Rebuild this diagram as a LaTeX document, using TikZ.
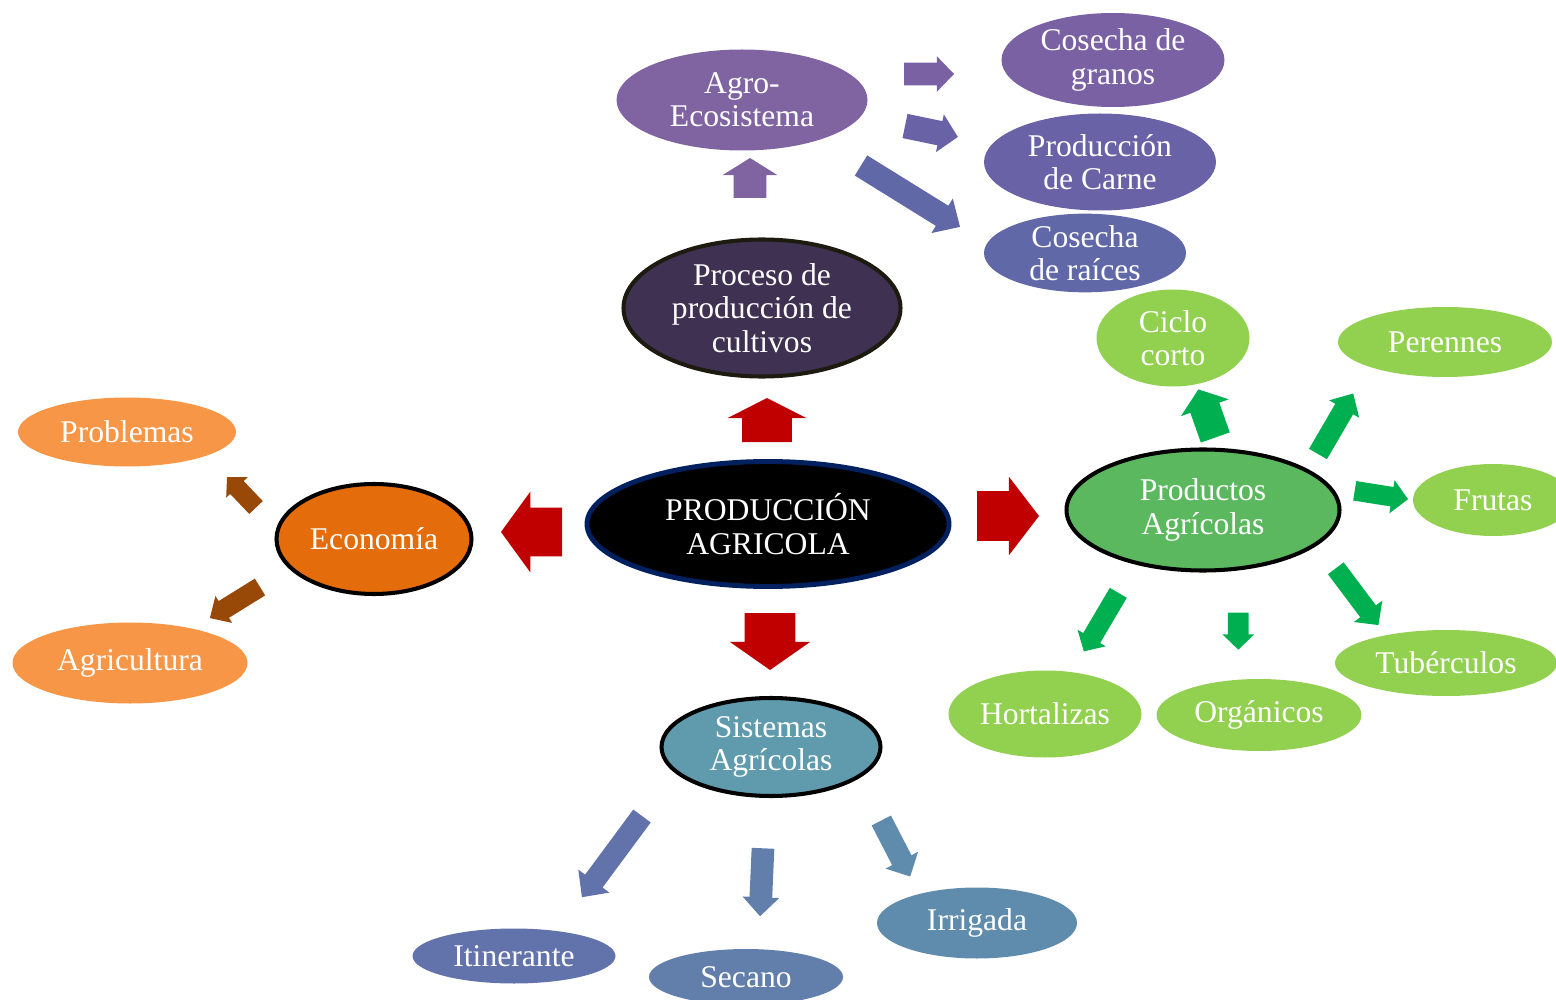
\documentclass[tikz,border=0pt]{standalone}
\usepackage{fontspec}
\setmainfont{Liberation Serif}
\usetikzlibrary{shapes.geometric,shapes.arrows}

\definecolor{rojo}{HTML}{C00000}
\definecolor{azulosc}{HTML}{002060}
\definecolor{lila}{HTML}{3F3151}
\definecolor{borde}{HTML}{1D1B10}
\definecolor{morado}{HTML}{8064A2}
\definecolor{morado2}{HTML}{7A61A3}
\definecolor{morado3}{HTML}{6A62A6}
\definecolor{morado4}{HTML}{6168A8}
\definecolor{naranja}{HTML}{E46C0A}
\definecolor{naranjac}{HTML}{F79646}
\definecolor{cafe}{HTML}{984807}
\definecolor{verdeosc}{HTML}{5CB85F}
\definecolor{verdec}{HTML}{92D050}
\definecolor{verde}{HTML}{00B050}
\definecolor{celeste}{HTML}{5F9BAD}
\definecolor{azul1}{HTML}{6272AA}
\definecolor{azul2}{HTML}{627FAB}
\definecolor{azul3}{HTML}{5F8CAD}

\tikzset{
	idea/.style={ellipse, inner sep=0pt, align=center, text=white,
		font=\fontsize{18}{19}\selectfont},
	tam/.style 2 args={minimum width=#1*0.02cm, minimum height=#2*0.02cm},
	marco/.style={draw=black, line width=2.3pt},
	flecha/.style n args={5}{single arrow, draw=none, fill=#1, inner xsep=0pt,
		inner ysep=#3*0.01cm, outer sep=0pt, anchor=tail,
		minimum height=#2*0.02cm, single arrow head extend=#4*0.02cm,
		single arrow tip angle=#5}
}

\begin{document}
\begin{tikzpicture}[x=0.02cm,y=-0.02cm]
		
		\useasboundingbox (0,0) rectangle (1556,1000);
		
		\node[idea, tam={362}{125}, fill=black, draw=azulosc, line width=2.8pt] (prod) at (768,524) {PRODUCCIÓN\\AGRICOLA};
		
		\node[idea, tam={277}{137}, fill=lila, draw=borde, line width=2.3pt] (proc) at (762,308) {Proceso de\\producción de\\cultivos};
		
		\node[idea, tam={251}{101}, fill=morado] (agro) at (742,100) {Agro-\\Ecosistema};
		
		\node[idea, tam={223}{94}, fill=morado2] (granos) at (1113,60) {Cosecha de\\granos};
		
		\node[idea, tam={232}{97}, fill=morado3] (carne) at (1100,162) {Producción\\de Carne};
		
		\node[idea, tam={202}{75}, fill=morado4] (raices) at (1085,253) {Cosecha\\de raíces};
		
		\node[idea, marco, tam={195}{110}, fill=naranja] (econ) at (374,539) {Economía};
		
		\node[idea, tam={218}{69}, fill=naranjac] (probl) at (127,432) {Problemas};
		
		\node[idea, tam={235}{81}, fill=naranjac] (agric) at (130,663) {Agricultura};
		
		\node[idea, marco, tam={273}{121}, fill=verdeosc] (produc) at (1203,510) {Productos\\Agrícolas};
		
		\node[idea, tam={153}{97}, fill=verdec] (ciclo) at (1173,338) {Ciclo\\corto};
		
		\node[idea, tam={214}{70}, fill=verdec] (peren) at (1445,342) {Perennes};
		
		\node[idea, tam={160}{72}, fill=verdec] (frutas) at (1493,500) {Frutas};
		
		\node[idea, tam={222}{66}, fill=verdec] (tuber) at (1446,663) {Tubérculos};
		
		\node[idea, tam={205}{72}, fill=verdec] (organ) at (1259,715) {Orgánicos};
		
		\node[idea, tam={193}{87}, fill=verdec] (hortal) at (1045,714) {Hortalizas};
		
		\node[idea, marco, tam={219}{98}, fill=celeste] (sist) at (771,747) {Sistemas\\Agrícolas};
		
		\node[idea, tam={203}{55}, fill=azul1] (itin) at (514,956) {Itinerante};
		
		\node[idea, tam={194}{56}, fill=azul2] (secano) at (746,977) {Secano};
		
		\node[idea, tam={200}{71}, fill=azul3] (irrig) at (977,923) {Irrigada};
		
		\node[flecha={rojo}{44}{49}{14.5}{126}, rotate=90] (f-proc) at (767,442) {};
		\node[flecha={rojo}{57}{50}{15}{110}, rotate=-90] (f-sist) at (770,613) {};
		\node[flecha={rojo}{61}{48}{16}{108}, rotate=180] (f-econ) at (562,532) {};
		\node[flecha={rojo}{62}{49}{14.5}{105}] (f-produc) at (977,516) {};
		
		\node[flecha={morado}{40}{32}{11}{116}, rotate=90] (f-agro) at (750,198) {};
		\node[flecha={morado2}{50}{22}{6.5}{92}] (f-granos) at (904,74) {};
		\node[flecha={morado3}{54}{24}{7}{93}, rotate=-11.7] (f-carne) at (905,126) {};
		\node[flecha={morado4}{116.5}{23}{8.5}{88}, rotate=-31.8] (f-raices) at (861,165.5) {};
		
		\node[flecha={cafe}{42}{18}{5.5}{92}, rotate=133.6] (f-probl) at (256,507.5) {};
		\node[flecha={cafe}{59}{19}{6}{88}, rotate=211.8] (f-agric) at (260,587) {};
		
		\node[flecha={verde}{51}{30}{10}{105}, rotate=109.4] (f-ciclo) at (1215.3,437.5) {};
		\node[flecha={verde}{70}{20}{7}{88}, rotate=59.8] (f-peren) at (1318,454) {};
		\node[flecha={verde}{54}{19}{7}{92}, rotate=-9] (f-frutas) at (1354.7,490.8) {};
		\node[flecha={verde}{71}{19}{8}{92}, rotate=-53.1] (f-tuber) at (1335.8,568.3) {};
		\node[flecha={verde}{37}{20}{5.5}{92}, rotate=-90] (f-organ) at (1238.3,612.7) {};
		\node[flecha={verde}{68}{19}{6.5}{93}, rotate=-120.5] (f-hortal) at (1118.3,592.8) {};
		
		\node[flecha={azul1}{101}{21}{8.5}{88}, rotate=-126.5] (f-itin) at (642,816) {};
		\node[flecha={azul2}{68}{22}{7}{88}, rotate=-92.5] (f-secano) at (763,848.3) {};
		\node[flecha={azul3}{63}{21}{7.5}{90}, rotate=-62.7] (f-irrig) at (881.3,820.5) {};
		
	\end{tikzpicture}
\end{document}
